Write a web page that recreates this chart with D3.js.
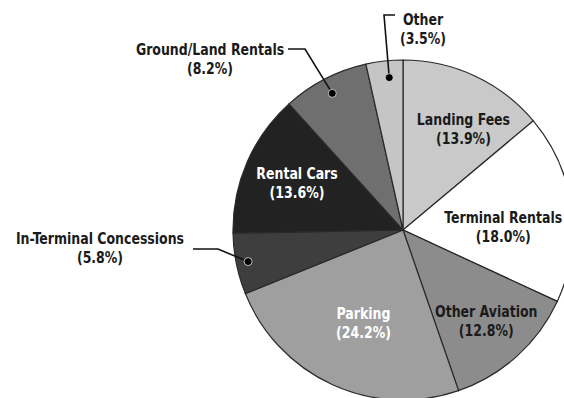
<!DOCTYPE html>
<html>
<head>
<meta charset="utf-8">
<script src="https://cdn.jsdelivr.net/npm/d3@7"></script>
<style>
  html, body { margin: 0; padding: 0; background: #ffffff; }
  svg { display: block; }
  text { font-family: "Liberation Sans Narrow", "DejaVu Sans Condensed", sans-serif; font-weight: bold; font-size: 16px; }
</style>
</head>
<body>
<svg id="chart" width="564" height="398"></svg>
<script>
// Revenue shares, clockwise from 12 o'clock
const categories = ["Landing Fees", "Terminal Rentals", "Other Aviation", "Parking",
                    "In-Terminal Concessions", "Rental Cars", "Ground/Land Rentals", "Other"];
const shares = [13.9, 18.0, 12.8, 24.2, 5.8, 13.6, 8.2, 3.5];
const percentLabels = ["(13.9%)", "(18.0%)", "(12.8%)", "(24.2%)", "(5.8%)", "(13.6%)", "(8.2%)", "(3.5%)"];

const fills = ["#c9c9c9", "#ffffff", "#8c8c8c", "#9f9f9f", "#3e3e3e", "#222222", "#6f6f6f", "#c5c5c5"];

const width = 564, height = 398;
const cx = 403, cy = 230, R = 170;
const squeeze = 0.87;   // horizontal condensing of the label type

const svg = d3.select("#chart");
const g = svg.append("g").attr("transform", `translate(${cx},${cy})`);

const pie = d3.pie().sort(null).value(d => d.value);
const arcs = pie(categories.map((c, i) => ({ name: c, value: shares[i], pct: percentLabels[i], fill: fills[i] })));
const arc = d3.arc().innerRadius(0).outerRadius(R);

g.selectAll("path.slice")
  .data(arcs)
  .join("path")
  .attr("class", "slice")
  .attr("d", arc)
  .attr("fill", d => d.data.fill)
  .attr("stroke", "#2a2a2a")
  .attr("stroke-width", 1.2);

// Polar helper: angle measured clockwise from 12 o'clock
const polar = (a, r) => [r * Math.sin(a), -r * Math.cos(a)];
const mid = d => (d.startAngle + d.endAngle) / 2;

// Two-line label (name over percentage), centred on (x, y) = first baseline
function label(parent, x, y, d, color) {
  const t = parent.append("g")
    .attr("transform", `translate(${x},${y}) scale(${squeeze},1)`)
    .append("text")
    .attr("text-anchor", "middle")
    .attr("fill", color);
  t.append("tspan").attr("x", 0).attr("y", 0).text(d.data.name);
  t.append("tspan").attr("x", 0).attr("y", 19).text(d.data.pct);
}

// Labels placed inside their slices
const inside = {
  "Landing Fees":     { r: 0.66, dx: 13, dy: -3, color: "#1a1a1a" },
  "Terminal Rentals": { r: 0.66, dx: -11, dy: 8, color: "#1a1a1a" },
  "Other Aviation":   { r: 0.66, dx: 8, dy: 4, color: "#1a1a1a" },
  "Parking":          { r: 0.66, dx: 7, dy: -13, color: "#ffffff" },
  "Rental Cars":      { r: 0.66, dx: -3, dy: -6, color: "#ffffff" }
};

arcs.filter(d => inside[d.data.name]).forEach(d => {
  const o = inside[d.data.name];
  const [x, y] = polar(mid(d), R * o.r);
  label(g, x + o.dx, y + o.dy, d, o.color);
});

// Labels outside the pie, connected by leader lines to a dot inside the slice
const outside = {
  "In-Terminal Concessions": { r: 0.93, tx: 100, ty: 244, elbow: [[193, 249], [218, 249]] },
  "Ground/Land Rentals":     { r: 0.905, tx: 210, ty: 55, elbow: [[288, 49], [305, 49]] },
  "Other":                   { r: 0.9, tx: 423, ty: 25, elbow: [[395, 15], [384, 15]], da: 0.02 }
};

arcs.filter(d => outside[d.data.name]).forEach(d => {
  const o = outside[d.data.name];
  const [px, py] = polar(mid(d) + (o.da || 0), R * o.r);
  const dot = [cx + px, cy + py];
  const pts = [...o.elbow, dot];
  svg.append("path")
    .attr("d", d3.line()(pts))
    .attr("fill", "none")
    .attr("stroke", "#111")
    .attr("stroke-width", 1.6);
  svg.append("circle")
    .attr("cx", dot[0]).attr("cy", dot[1]).attr("r", 4)
    .attr("fill", "#000")
    .attr("stroke", "#e8e8e8").attr("stroke-width", 0.8);
  label(svg, o.tx, o.ty, d, "#1a1a1a");
});
</script>
</body>
</html>
